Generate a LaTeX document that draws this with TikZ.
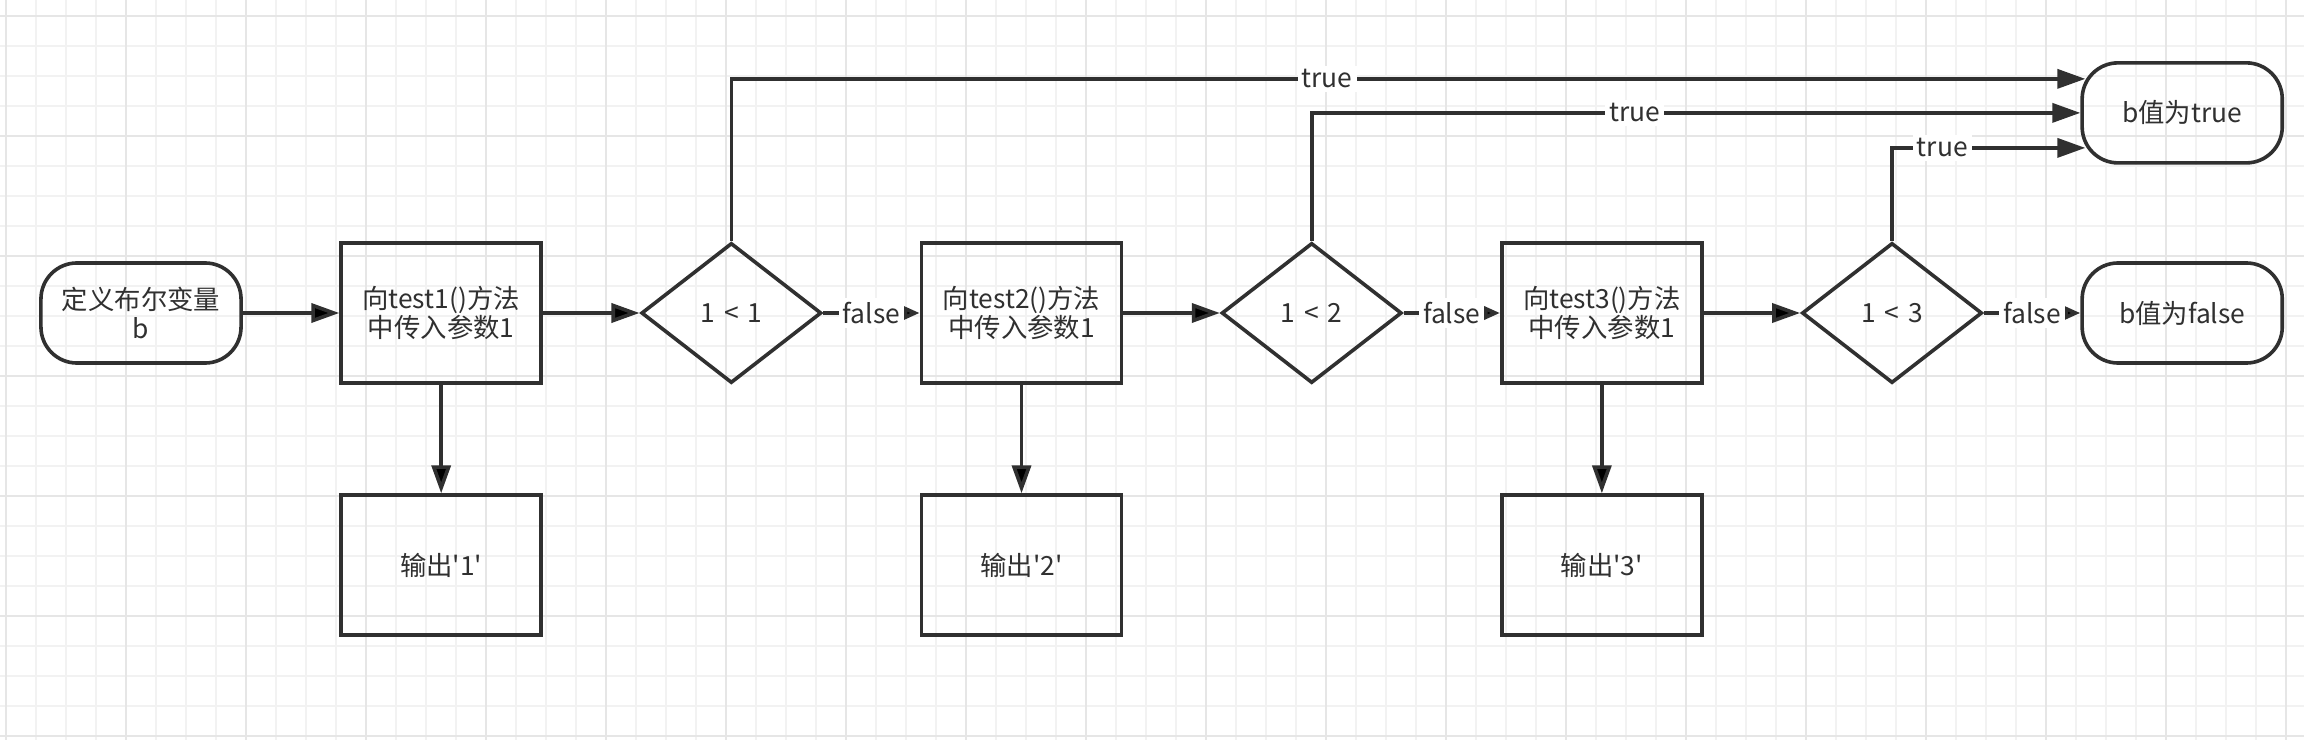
\documentclass[tikz,border=0pt]{standalone}
\usepackage{fontspec}
\newfontfamily\flowcjk{Noto Sans CJK SC}
\usetikzlibrary{shapes,arrows.meta}
\definecolor{linegray}{HTML}{303030}
\definecolor{gridminor}{HTML}{F2F2F2}
\definecolor{gridmajor}{HTML}{E6E6E6}
\newcommand{\flowfont}{\flowcjk\fontsize{7.5}{8}\selectfont}
\tikzstyle{terminal}=[rectangle,
                      rounded corners=0.36cm,
                      draw=linegray,
                      line width=0.036cm,
                      minimum width=2cm,
                      minimum height=1cm,
                      text=linegray,
                      font=\flowfont,
                      align=center]
\tikzstyle{process}=[rectangle,
                     draw=linegray,
                     line width=0.036cm,
                     minimum width=2cm,
                     minimum height=1.4cm,
                     text=linegray,
                     font=\flowfont,
                     align=center]
\tikzstyle{decision}=[diamond,
                      draw=linegray,
                      line width=0.036cm,
                      minimum width=1.8cm,
                      minimum height=1.4cm,
                      inner sep=0pt,
                      text=linegray,
                      font=\flowfont]
\tikzstyle{flow}=[draw=linegray,line width=0.036cm,-{Triangle[length=0.28cm,width=0.19cm]}]
\tikzstyle{shortflow}=[draw=linegray,line width=0.036cm,-{Triangle[length=0.16cm,width=0.13cm]}]
\tikzstyle{answer}=[fill=white,inner sep=0.04cm,text=linegray,font=\flowfont]

\begin{document}
\begin{tikzpicture}[x=0.01cm,y=-0.01cm]
    \useasboundingbox (0,0) rectangle (2304,740);
    \fill[white] (0,0) rectangle (2304,740);
    % background grid
    \foreach \gx in {6,36,...,2304} \draw[gridminor,line width=0.015cm] (\gx,0) -- (\gx,740);
    \foreach \gy in {16,46,...,740} \draw[gridminor,line width=0.015cm] (0,\gy) -- (2304,\gy);
    \foreach \gx in {6,126,...,2304} \draw[gridmajor,line width=0.02cm] (\gx,0) -- (\gx,740);
    \foreach \gy in {16,136,...,740} \draw[gridmajor,line width=0.02cm] (0,\gy) -- (2304,\gy);

    \node[terminal] (start) at (141,313) {定义布尔变量\\b};
    \node[process, node distance=3cm, right of=start] (call1) {向test1()方法\\中传入参数1};
    \node[decision, node distance=2.9cm, right of=call1] (cmp1) {1\,\,<\,\,1};
    \node[process, node distance=2.9cm, right of=cmp1] (call2) {向test2()方法\\中传入参数1};
    \node[decision, node distance=2.9cm, right of=call2] (cmp2) {1\,\,<\,\,2};
    \node[process, node distance=2.9cm, right of=cmp2] (call3) {向test3()方法\\中传入参数1};
    \node[decision, node distance=2.9cm, right of=call3] (cmp3) {1\,\,<\,\,3};
    \node[terminal, node distance=2.9cm, right of=cmp3] (bfalse) {b值为false};
    \node[terminal, node distance=2cm, above of=bfalse] (btrue) {b值为true};
    \node[process, node distance=2.52cm, below of=call1] (out1) {输出'1'};
    \node[process, node distance=2.52cm, below of=call2] (out2) {输出'2'};
    \node[process, node distance=2.52cm, below of=call3] (out3) {输出'3'};

    \path[flow] (start) edge (call1)
                (call1) edge (cmp1)
                (call2) edge (cmp2)
                (call3) edge (cmp3)
                (call1) edge (out1)
                (call2) edge (out2)
                (call3) edge (out3);
    \path[shortflow] (cmp1) edge node[answer] {false} (call2)
                     (cmp2) edge node[answer] {false} (call3)
                     (cmp3) edge node[answer] {false} (bfalse);

    % true branches into the rounded end node
    \coordinate (hit1) at ([xshift=0.05cm,yshift=0.34cm]btrue.west);
    \coordinate (hit3) at ([xshift=0.05cm,yshift=-0.35cm]btrue.west);
    \draw[flow] (cmp1.north) |- node[answer,pos=0.72] {true} (hit1);
    \draw[flow] (cmp2.north) |- node[answer,pos=0.71] {true} (btrue.west);
    \draw[flow] (cmp3.north) |- node[answer,pos=0.63] {true} (hit3);
\end{tikzpicture}
\end{document}
